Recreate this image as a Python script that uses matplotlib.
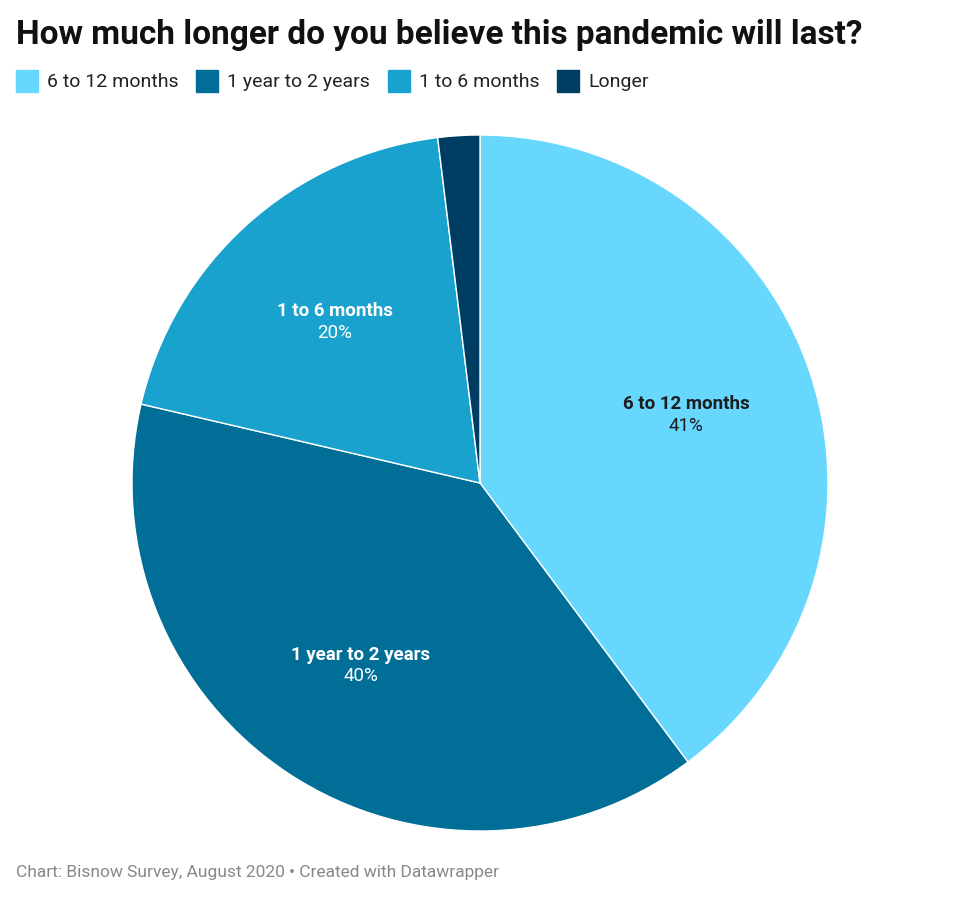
import numpy as np
import matplotlib.pyplot as plt
import matplotlib.patches as mpatches

plt.rcParams['font.family'] = ['Roboto', 'DejaVu Sans']

# data (raw survey shares, they add up to a bit more than 100)
labels = ['6 to 12 months', '1 year to 2 years', '1 to 6 months', 'Longer']
values = [41, 40, 20, 2]
colors = ['#67d7fe', '#006e96', '#18a2cd', '#003d62']
text_colors = ['#1d1d1d', 'white', 'white', None]

W, H = 960, 898
fig = plt.figure(figsize=(W / 100, H / 100), dpi=100)

# pie axes: centre (480, 483) px, radius 348 px
cx, cy, r = 480, 483, 348
ax = fig.add_axes([(cx - r) / W, (H - cy - r) / H, 2 * r / W, 2 * r / H])
wedges, _ = ax.pie(values, colors=colors, startangle=90, counterclock=False,
                   radius=1, wedgeprops=dict(edgecolor='white', linewidth=1))
ax.set_xlim(-1, 1)
ax.set_ylim(-1, 1)
ax.set_aspect('equal')
ax.axis('off')

# slice labels
for w, lab, v, tc in zip(wedges, labels, values, text_colors):
    if tc is None:
        continue
    ang = np.deg2rad((w.theta1 + w.theta2) / 2)
    x, y = 0.625 * np.cos(ang), 0.625 * np.sin(ang)
    ax.text(x, y + 0.03, lab, ha='center', va='center', fontsize=13.5,
            fontweight='bold', color=tc)
    ax.text(x, y - 0.033, f'{v}%', ha='center', va='center', fontsize=13.5,
            color=tc)

# title
fig.text(16 / W, 1 - 35 / H, 'How much longer do you believe this pandemic will last?',
         fontsize=24, fontweight='bold', color='#111111', va='center', ha='left')

# legend row
lx = [16, 196, 388, 557]
for xi, lab, c in zip(lx, labels, colors):
    fig.patches.append(mpatches.Rectangle((xi / W, 1 - 92 / H), 22 / W, 22 / H,
                                          transform=fig.transFigure, color=c))
    fig.text((xi + 31) / W, 1 - 82 / H, lab, fontsize=14, color='#222222',
             va='center', ha='left')

# footer
fig.text(16 / W, 1 - 872 / H, 'Chart: Bisnow Survey, August 2020 \u2022 Created with Datawrapper',
         fontsize=12.5, color='#888888', va='center', ha='left')

fig.savefig('out.png', dpi=100)
